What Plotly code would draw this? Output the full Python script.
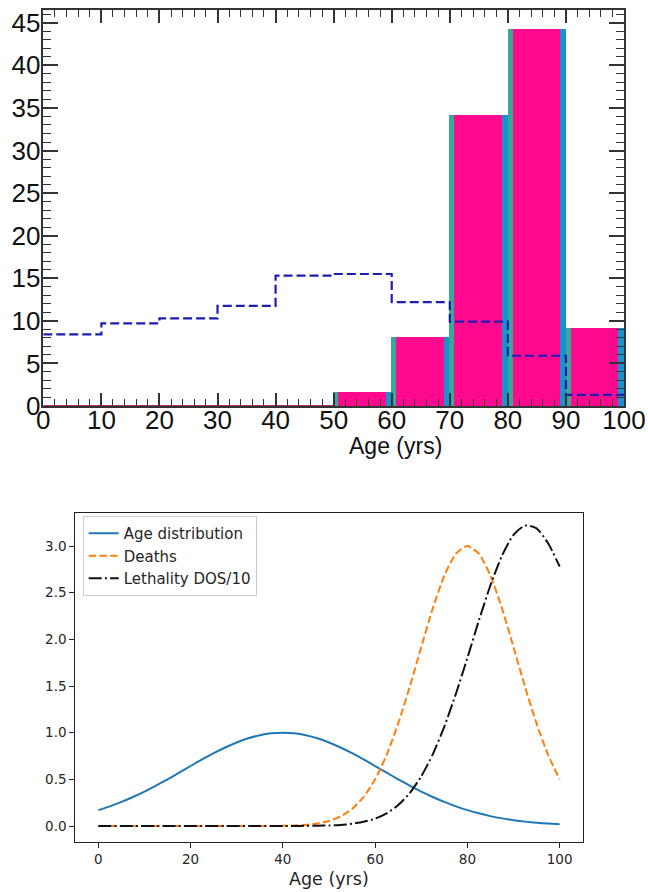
import plotly.graph_objects as go

# ---------------- top panel: histograms by age decade ----------------
bin_left = [0, 10, 20, 30, 40, 50, 60, 70, 80, 90]
bin_edges = [0, 10, 20, 30, 40, 50, 60, 70, 80, 90, 100]
deaths_pct = [0, 0, 0, 0, 0, 1.7, 8.1, 34.2, 44.3, 9.2]
population_pct = [8.4, 9.7, 10.3, 11.75, 15.3, 15.5, 12.2, 9.9, 5.9, 1.3]
top_xticks = [0, 10, 20, 30, 40, 50, 60, 70, 80, 90, 100]
top_yticks = [0, 5, 10, 15, 20, 25, 30, 35, 40, 45]

# ---------------- bottom panel: smooth curves ----------------
age_grid = [0, 2.5, 5, 7.5, 10, 12.5, 15, 17.5, 20, 22.5, 25, 27.5, 30, 32.5, 35, 37.5,
            40, 42.5, 45, 47.5, 50, 52.5, 55, 57.5, 60, 62.5, 65, 67.5, 70, 72.5, 75,
            77.5, 80, 82.5, 85, 87.5, 90, 92.5, 95, 97.5, 100]
age_distribution = [0.170, 0.211, 0.258, 0.311, 0.369, 0.433, 0.501, 0.571, 0.643, 0.713,
                    0.780, 0.841, 0.895, 0.940, 0.973, 0.993, 1.000, 0.993, 0.973, 0.940,
                    0.895, 0.841, 0.780, 0.713, 0.643, 0.571, 0.501, 0.433, 0.369, 0.311,
                    0.258, 0.211, 0.170, 0.136, 0.106, 0.082, 0.063, 0.047, 0.035, 0.026,
                    0.019]
deaths_curve = [0, 0, 0, 0, 0, 0, 0, 0, 0, 0, 0, 0, 0, 0, 0, 0,
                0.002, 0.006, 0.012, 0.027, 0.053, 0.102, 0.183, 0.311, 0.500, 0.762,
                1.098, 1.491, 1.917, 2.332, 2.683, 2.917, 3.000, 2.917, 2.683, 2.332,
                1.917, 1.491, 1.098, 0.762, 0.500]
lethality_curve = [0, 0, 0, 0, 0, 0, 0, 0, 0, 0, 0, 0, 0, 0, 0, 0,
                   0, 0.001, 0.002, 0.003, 0.006, 0.012, 0.024, 0.045, 0.079, 0.136,
                   0.224, 0.352, 0.532, 0.768, 1.066, 1.415, 1.800, 2.203, 2.580, 2.896,
                   3.120, 3.220, 3.190, 3.030, 2.780]
bottom_xticks = [0, 20, 40, 60, 80, 100]
bottom_yticks = [0.0, 0.5, 1.0, 1.5, 2.0, 2.5, 3.0]
series_names = ["Age distribution", "Deaths", "Lethality DOS/10"]

W, H = 648, 892
TEAL = "#3aa898"
BLUE = "#1c90cd"
MAGENTA = "#ff0a8f"
FRAME = "#333333"

fig = go.Figure()

# histogram layers (teal, blue, magenta on top)
fig.add_trace(go.Bar(x=bin_left, y=deaths_pct, offset=0, width=10, marker_color=TEAL,
                     marker_line_width=0, showlegend=False, xaxis="x", yaxis="y"))
fig.add_trace(go.Bar(x=bin_left, y=deaths_pct, offset=1.0, width=9.0, marker_color=BLUE,
                     marker_line_width=0, showlegend=False, xaxis="x", yaxis="y"))
fig.add_trace(go.Bar(x=bin_left, y=deaths_pct, offset=0.85, width=8.2, marker_color=MAGENTA,
                     marker_line_width=0, showlegend=False, xaxis="x", yaxis="y"))

# zero-height bins drawn as a flat line
zero_idx = [i for i, v in enumerate(deaths_pct) if v == 0]
zx = [bin_edges[i] for i in zero_idx] + [bin_edges[zero_idx[-1] + 1]]
zy = [deaths_pct[i] for i in zero_idx] + [deaths_pct[zero_idx[-1]]]
fig.add_trace(go.Scatter(x=zx, y=zy, mode="lines", line=dict(color="#b8266e", width=2),
                         cliponaxis=False, showlegend=False, hoverinfo="skip",
                         xaxis="x", yaxis="y"))

# population step line
fig.add_trace(go.Scatter(x=bin_edges, y=population_pct + [population_pct[-1]], mode="lines",
                         line=dict(shape="hv", dash="9px,4px", color="#1d1db2", width=2.2),
                         showlegend=False, xaxis="x", yaxis="y"))

# bottom curves
fig.add_trace(go.Scatter(x=age_grid, y=age_distribution, mode="lines", name=series_names[0],
                         line=dict(color="#1f77b4", width=2, shape="spline", smoothing=0.6),
                         xaxis="x2", yaxis="y2"))
fig.add_trace(go.Scatter(x=age_grid, y=deaths_curve, mode="lines", name=series_names[1],
                         line=dict(color="#ff7f0e", width=2, dash="7.5px,3.2px",
                                   shape="spline", smoothing=0.6),
                         xaxis="x2", yaxis="y2"))
fig.add_trace(go.Scatter(x=age_grid, y=lethality_curve, mode="lines", name=series_names[2],
                         line=dict(color="#111111", width=2, dash="13px,3.2px,2px,3.2px",
                                   shape="spline", smoothing=0.6),
                         xaxis="x2", yaxis="y2"))

top_font = dict(family="Liberation Sans, Arial, sans-serif", size=26, color="#111111")
bot_font = dict(family="DejaVu Sans, sans-serif", size=13.5, color="#262626")

fig.update_layout(
    width=W, height=H,
    margin=dict(l=0, r=0, t=0, b=0, autoexpand=False),
    paper_bgcolor="white", plot_bgcolor="white",
    barmode="overlay", bargap=0,
    xaxis=dict(domain=[43.3 / W, 624 / W], anchor="y", range=[0, 100], automargin=False,
               tickvals=top_xticks, ticks="inside", ticklen=13, tickwidth=1.5,
               tickcolor=FRAME, showline=True, linecolor=FRAME, linewidth=1.5,
               mirror="ticks", showgrid=False, zeroline=False, tickfont=top_font,
               ticklabelstandoff=-10,
               minor=dict(ticks="inside", ticklen=7, dtick=2, tick0=0,
                          tickcolor=FRAME, tickwidth=1.2, showgrid=False)),
    yaxis=dict(domain=[1 - 406 / H, 1 - 10 / H], anchor="x", range=[0, 46.5], automargin=False,
               tickvals=top_yticks, ticks="inside", ticklen=15, tickwidth=1.5,
               tickcolor=FRAME, showline=True, linecolor=FRAME, linewidth=1.5,
               mirror="ticks", showgrid=False, zeroline=False, tickfont=top_font,
               ticklabelstandoff=-4,
               minor=dict(ticks="inside", ticklen=8, dtick=1, tick0=0,
                          tickcolor=FRAME, tickwidth=1.2, showgrid=False)),
    xaxis2=dict(domain=[75.3 / W, 582.7 / W], anchor="y2", range=[-5, 105], automargin=False,
                tickvals=bottom_xticks, ticks="outside", ticklen=5, tickwidth=1,
                tickcolor="#222222", showline=True, linecolor="#222222", linewidth=1,
                mirror=True, showgrid=False, zeroline=False, tickfont=bot_font),
    yaxis2=dict(domain=[1 - 841.7 / H, 1 - 512.7 / H], anchor="x2", range=[-0.168, 3.357],
                automargin=False,
                tickvals=bottom_yticks, tickformat=".1f", ticks="outside", ticklen=5,
                tickwidth=1, tickcolor="#222222", showline=True, linecolor="#222222",
                linewidth=1, mirror=True, showgrid=False, zeroline=False, tickfont=bot_font),
    legend=dict(x=82.7 / W, y=1 - 516 / H, xanchor="left", yanchor="top",
                bgcolor="rgba(255,255,255,0.85)", bordercolor="#cccccc", borderwidth=1,
                font=dict(family="DejaVu Sans, sans-serif", size=15, color="#262626"),
                tracegroupgap=0),
    annotations=[
        dict(text="Age (yrs)", x=395.5 / W, y=1 - 446 / H, xref="paper", yref="paper",
             xanchor="center", yanchor="middle", showarrow=False,
             font=dict(family="Liberation Sans, Arial, sans-serif", size=23, color="#111111")),
        dict(text="Age (yrs)", x=329 / W, y=1 - 879 / H, xref="paper", yref="paper",
             xanchor="center", yanchor="middle", showarrow=False,
             font=dict(family="DejaVu Sans, sans-serif", size=17.5, color="#262626")),
    ],
)

fig.write_html("out.html", config={"displayModeBar": False},
               post_script="document.body.style.margin='0';document.body.style.padding='0';")
